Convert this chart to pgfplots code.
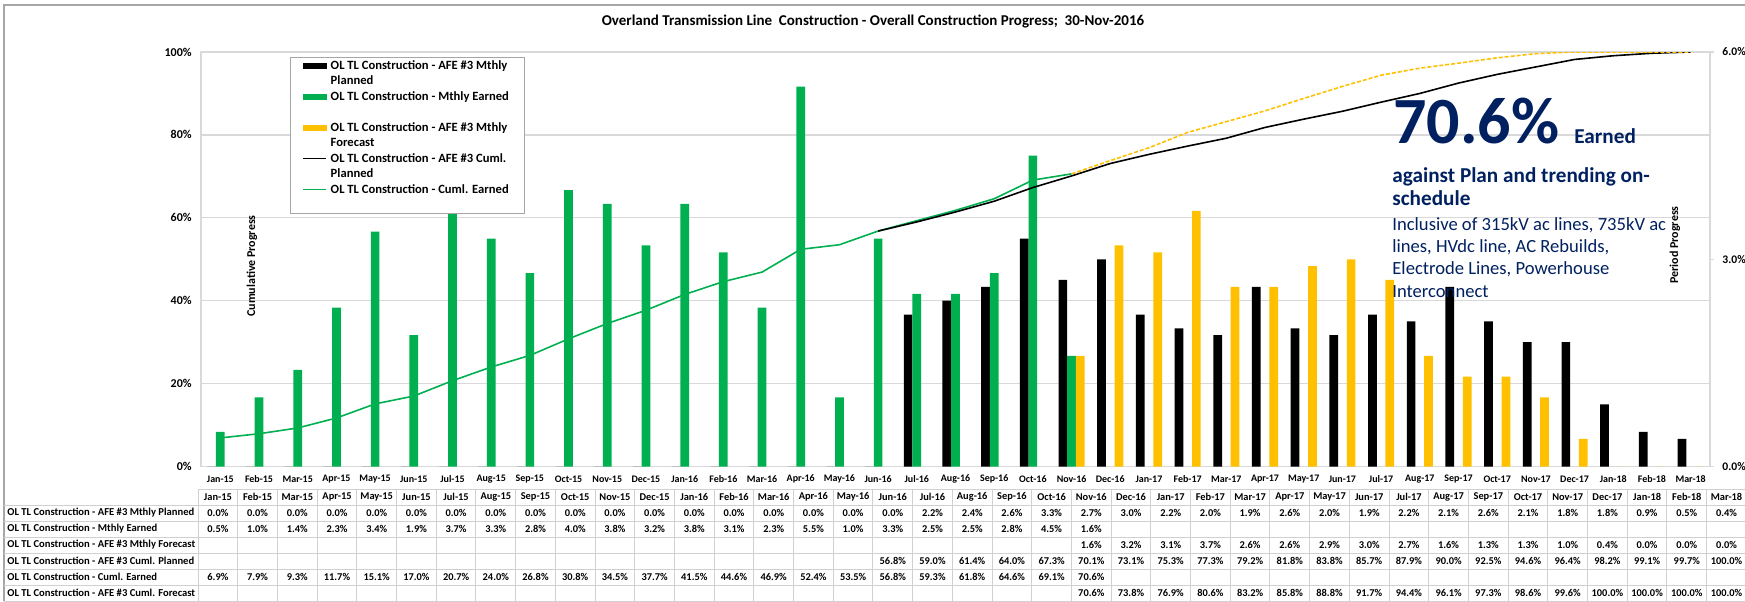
\documentclass[border=0pt]{standalone}
\usepackage{pgfplots}
\pgfplotsset{compat=1.18}
\usepackage{fontspec}
\setmainfont{Carlito}
\definecolor{cgreen}{HTML}{00B050}
\definecolor{cgold}{HTML}{FFC000}
\definecolor{navy}{HTML}{002060}
\definecolor{gridc}{HTML}{D9D9D9}
\definecolor{tabc}{HTML}{D0D0D0}
\definecolor{framec}{HTML}{A6A6A6}
\newcommand{\fs}[2]{\fontsize{#1}{#2}\selectfont}
\begin{document}
\begin{tikzpicture}
\useasboundingbox (0pt,0pt) rectangle (872.5pt,300.5pt);
% ---------- base axis: grid, left ticks, x labels
\begin{axis}[
  at={(100.5pt,67.25pt)}, anchor=south west,
  scale only axis, width=754.5pt, height=207.25pt,
  xmin=-0.5, xmax=38.5, ymin=0, ymax=100,
  axis line style={draw=gridc, line width=0.6pt},
  ytick={0,20,40,60,80,100},
  yticklabels={0\%,20\%,40\%,60\%,80\%,100\%},
  ymajorgrids, grid style={draw=gridc, line width=0.6pt},
  xtick={0,...,38},
  xticklabels={Jan-15,Feb-15,Mar-15,Apr-15,May-15,Jun-15,Jul-15,Aug-15,Sep-15,Oct-15,Nov-15,Dec-15,Jan-16,Feb-16,Mar-16,Apr-16,May-16,Jun-16,Jul-16,Aug-16,Sep-16,Oct-16,Nov-16,Dec-16,Jan-17,Feb-17,Mar-17,Apr-17,May-17,Jun-17,Jul-17,Aug-17,Sep-17,Oct-17,Nov-17,Dec-17,Jan-18,Feb-18,Mar-18},
  major tick length=0pt,
  tick pos=left,
  xticklabel style={font=\bfseries\fs{5}{6}, anchor=center, inner sep=0pt, yshift=-6.25pt},
  yticklabel style={font=\bfseries\fs{6}{7}, anchor=east, inner sep=0pt, xshift=-4.5pt},
]
\end{axis}
% ---------- bars on right axis
\begin{axis}[
  at={(100.5pt,67.25pt)}, anchor=south west,
  scale only axis, width=754.5pt, height=207.25pt,
  xmin=-0.5, xmax=38.5, ymin=0, ymax=6,
  axis x line=none, axis y line*=right,
  axis line style={draw=gridc, line width=0.6pt},
  ytick={0,3,6}, yticklabels={0.0\%,3.0\%,6.0\%},
  tick align=outside, major tick length=2pt,
  tick style={draw=gridc, line width=0.6pt},
  yticklabel style={font=\bfseries\fs{5.8}{7}, anchor=west, inner sep=0pt, xshift=4pt},
  ybar, bar width=0.225,
]
\addplot[fill=black, draw=none, bar shift=-0.225] coordinates {
(0,0) (1,0) (2,0) (3,0) (4,0) (5,0) (6,0) (7,0) (8,0) (9,0) (10,0) (11,0) (12,0) (13,0) (14,0) (15,0) (16,0) (17,0)
(18,2.2) (19,2.4) (20,2.6) (21,3.3) (22,2.7) (23,3.0) (24,2.2) (25,2.0) (26,1.9) (27,2.6) (28,2.0) (29,1.9) (30,2.2) (31,2.1) (32,2.6) (33,2.1) (34,1.8) (35,1.8) (36,0.9) (37,0.5) (38,0.4)};
\addplot[fill=cgreen, draw=none, bar shift=0] coordinates {
(0,0.5) (1,1.0) (2,1.4) (3,2.3) (4,3.4) (5,1.9) (6,3.7) (7,3.3) (8,2.8) (9,4.0) (10,3.8) (11,3.2) (12,3.8) (13,3.1) (14,2.3) (15,5.5) (16,1.0) (17,3.3) (18,2.5) (19,2.5) (20,2.8) (21,4.5) (22,1.6)};
\addplot[fill=cgold, draw=none, bar shift=0.225] coordinates {
(22,1.6) (23,3.2) (24,3.1) (25,3.7) (26,2.6) (27,2.6) (28,2.9) (29,3.0) (30,2.7) (31,1.6) (32,1.3) (33,1.3) (34,1.0) (35,0.4) (36,0.0) (37,0.0) (38,0.0)};
\end{axis}
% ---------- cumulative lines on left axis + legend
\begin{axis}[
  at={(100.5pt,67.25pt)}, anchor=south west,
  scale only axis, width=754.5pt, height=207.25pt,
  xmin=-0.5, xmax=38.5, ymin=0, ymax=100,
  hide axis,
  legend style={at={(0.059,0.988)}, anchor=north west, draw=framec, line width=0.5pt,
    font=\bfseries\fs{6.3}{7.75}, inner xsep=6pt, inner ysep=1pt, row sep=1.35pt,
    nodes={inner ysep=0pt, text height=4.8pt, text depth=1.6pt},
    cells={anchor=west}},
  legend cell align=left,
]
\addlegendimage{legend image code/.code={\fill[black] (0pt,-1.4pt) rectangle (11.5pt,1.4pt);}}
\addlegendentry{OL TL Construction - AFE \#3 Mthly}
\addlegendimage{empty legend}
\addlegendentry{Planned}
\addlegendimage{legend image code/.code={\fill[cgreen] (0pt,-1.4pt) rectangle (11.5pt,1.4pt);}}
\addlegendentry{OL TL Construction - Mthly Earned}
\addlegendimage{empty legend}
\addlegendentry{}
\addlegendimage{legend image code/.code={\fill[cgold] (0pt,-1.4pt) rectangle (11.5pt,1.4pt);}}
\addlegendentry{OL TL Construction - AFE \#3 Mthly}
\addlegendimage{empty legend}
\addlegendentry{Forecast}
\addlegendimage{legend image code/.code={\draw[black, line width=0.6pt] (0pt,0pt) -- (11.5pt,0pt);}}
\addlegendentry{OL TL Construction - AFE \#3 Cuml.}
\addlegendimage{empty legend}
\addlegendentry{Planned}
\addlegendimage{legend image code/.code={\draw[cgreen, line width=0.6pt] (0pt,0pt) -- (11.5pt,0pt);}}
\addlegendentry{OL TL Construction - Cuml. Earned}
\addlegendimage{empty legend}
\addlegendentry{}
\addplot[cgreen, line width=0.8pt, forget plot] coordinates {
(0,6.9) (1,7.9) (2,9.3) (3,11.7) (4,15.1) (5,17.0) (6,20.7) (7,24.0) (8,26.8) (9,30.8) (10,34.5) (11,37.7) (12,41.5) (13,44.6) (14,46.9) (15,52.4) (16,53.5) (17,56.8) (18,59.3) (19,61.8) (20,64.6) (21,69.1) (22,70.6)};
\addplot[black, line width=0.8pt, forget plot] coordinates {
(17,56.8) (18,59.0) (19,61.4) (20,64.0) (21,67.3) (22,70.1) (23,73.1) (24,75.3) (25,77.3) (26,79.2) (27,81.8) (28,83.8) (29,85.7) (30,87.9) (31,90.0) (32,92.5) (33,94.6) (34,96.4) (35,98.2) (36,99.1) (37,99.7) (38,100.0)};
\addplot[cgold, line width=0.8pt, dash pattern=on 2pt off 1pt, forget plot] coordinates {
(22,70.6) (23,73.8) (24,76.9) (25,80.6) (26,83.2) (27,85.8) (28,88.8) (29,91.7) (30,94.4) (31,96.1) (32,97.3) (33,98.6) (34,99.6) (35,100.0) (36,100.0) (37,100.0) (38,100.0)};
\end{axis}
% ---------- overlay in pixel units (y down)
\begin{scope}[x=0.5pt, y=-0.5pt, shift={(0pt,300.5pt)}]
  % frame
  \draw[framec, line width=0.6pt] (4,601) -- (4,5) -- (1746,5);
  % title
  \node[font=\bfseries\fs{7.5}{9}, inner sep=0pt] at (873,21)
    {Overland Transmission Line \ Construction - Overall Construction Progress; \ 30-Nov-2016};
  % axis titles
  \node[font=\bfseries\fs{6}{7}, rotate=90, inner sep=0pt] at (252,266) {Cumulative Progress};
  \node[font=\bfseries\fs{6}{7}, rotate=90, inner sep=0pt] at (1675,245) {Period Progress};
  % annotation
  \node[anchor=base west, inner sep=0pt, text=navy, font=\bfseries\fs{33}{33}] at (1393,143) {70.6\%};
  \node[anchor=base west, inner sep=0pt, text=navy, font=\bfseries\fs{10.6}{12}] at (1574,143) {Earned};
  \node[anchor=base west, inner sep=0pt, text=navy, font=\bfseries\fs{10.6}{12}] at (1392,182) {against Plan and trending on-};
  \node[anchor=base west, inner sep=0pt, text=navy, font=\bfseries\fs{10.6}{12}] at (1392,206) {schedule};
  \node[anchor=base west, inner sep=0pt, text=navy, font=\fs{9.3}{11}] at (1392,230) {Inclusive of 315kV ac lines, 735kV ac};
  \node[anchor=base west, inner sep=0pt, text=navy, font=\fs{9.3}{11}] at (1392,252) {lines, HVdc line, AC Rebuilds,};
  \node[anchor=base west, inner sep=0pt, text=navy, font=\fs{9.3}{11}] at (1392,274) {Electrode Lines, Powerhouse};
  \node[anchor=base west, inner sep=0pt, text=navy, font=\fs{9.3}{11}] at (1392,297) {Interconnect};
  % table grid
  \draw[tabc, line width=0.5pt] (198,489) -- (1746,489);
  \foreach \yy in {505,521,537,553,569,585,601} {\draw[tabc, line width=0.5pt] (4,\yy) -- (1746,\yy);}
  \foreach \k in {0,...,39} {\draw[tabc, line width=0.5pt] ({198+39.7*\k},489) -- ({198+39.7*\k},601);}
  % row labels
  \begin{scope}[every node/.style={anchor=west, inner sep=0pt, font=\bfseries\fs{5.3}{6}}]
    \node at (7,513) {OL TL Construction - AFE \#3 Mthly Planned};
    \node at (7,529) {OL TL Construction - Mthly Earned};
    \node at (7,545) {OL TL Construction - AFE \#3 Mthly Forecast};
    \node at (7,561) {OL TL Construction - AFE \#3 Cuml. Planned};
    \node at (7,577) {OL TL Construction - Cuml. Earned};
    \node at (7,593) {OL TL Construction - AFE \#3 Cuml. Forecast};
  \end{scope}
  \begin{scope}[every node/.style={inner sep=0pt, font=\bfseries\fs{5.2}{6}}]
    \foreach \m [count=\i from 0] in {Jan-15,Feb-15,Mar-15,Apr-15,May-15,Jun-15,Jul-15,Aug-15,Sep-15,Oct-15,Nov-15,Dec-15,Jan-16,Feb-16,Mar-16,Apr-16,May-16,Jun-16,Jul-16,Aug-16,Sep-16,Oct-16,Nov-16,Dec-16,Jan-17,Feb-17,Mar-17,Apr-17,May-17,Jun-17,Jul-17,Aug-17,Sep-17,Oct-17,Nov-17,Dec-17,Jan-18,Feb-18,Mar-18}
      {\node at ({217.9+39.7*\i},497) {\m};}
    \foreach \v [count=\i from 0] in {0.0,0.0,0.0,0.0,0.0,0.0,0.0,0.0,0.0,0.0,0.0,0.0,0.0,0.0,0.0,0.0,0.0,0.0,2.2,2.4,2.6,3.3,2.7,3.0,2.2,2.0,1.9,2.6,2.0,1.9,2.2,2.1,2.6,2.1,1.8,1.8,0.9,0.5,0.4}
      {\node at ({217.9+39.7*\i},513) {\v\%};}
    \foreach \v [count=\i from 0] in {0.5,1.0,1.4,2.3,3.4,1.9,3.7,3.3,2.8,4.0,3.8,3.2,3.8,3.1,2.3,5.5,1.0,3.3,2.5,2.5,2.8,4.5,1.6}
      {\node at ({217.9+39.7*\i},529) {\v\%};}
    \foreach \v [count=\i from 22] in {1.6,3.2,3.1,3.7,2.6,2.6,2.9,3.0,2.7,1.6,1.3,1.3,1.0,0.4,0.0,0.0,0.0}
      {\node at ({217.9+39.7*\i},545) {\v\%};}
    \foreach \v [count=\i from 17] in {56.8,59.0,61.4,64.0,67.3,70.1,73.1,75.3,77.3,79.2,81.8,83.8,85.7,87.9,90.0,92.5,94.6,96.4,98.2,99.1,99.7,100.0}
      {\node at ({217.9+39.7*\i},561) {\v\%};}
    \foreach \v [count=\i from 0] in {6.9,7.9,9.3,11.7,15.1,17.0,20.7,24.0,26.8,30.8,34.5,37.7,41.5,44.6,46.9,52.4,53.5,56.8,59.3,61.8,64.6,69.1,70.6}
      {\node at ({217.9+39.7*\i},577) {\v\%};}
    \foreach \v [count=\i from 22] in {70.6,73.8,76.9,80.6,83.2,85.8,88.8,91.7,94.4,96.1,97.3,98.6,99.6,100.0,100.0,100.0,100.0}
      {\node at ({217.9+39.7*\i},593) {\v\%};}
  \end{scope}
\end{scope}
\end{tikzpicture}
\end{document}
